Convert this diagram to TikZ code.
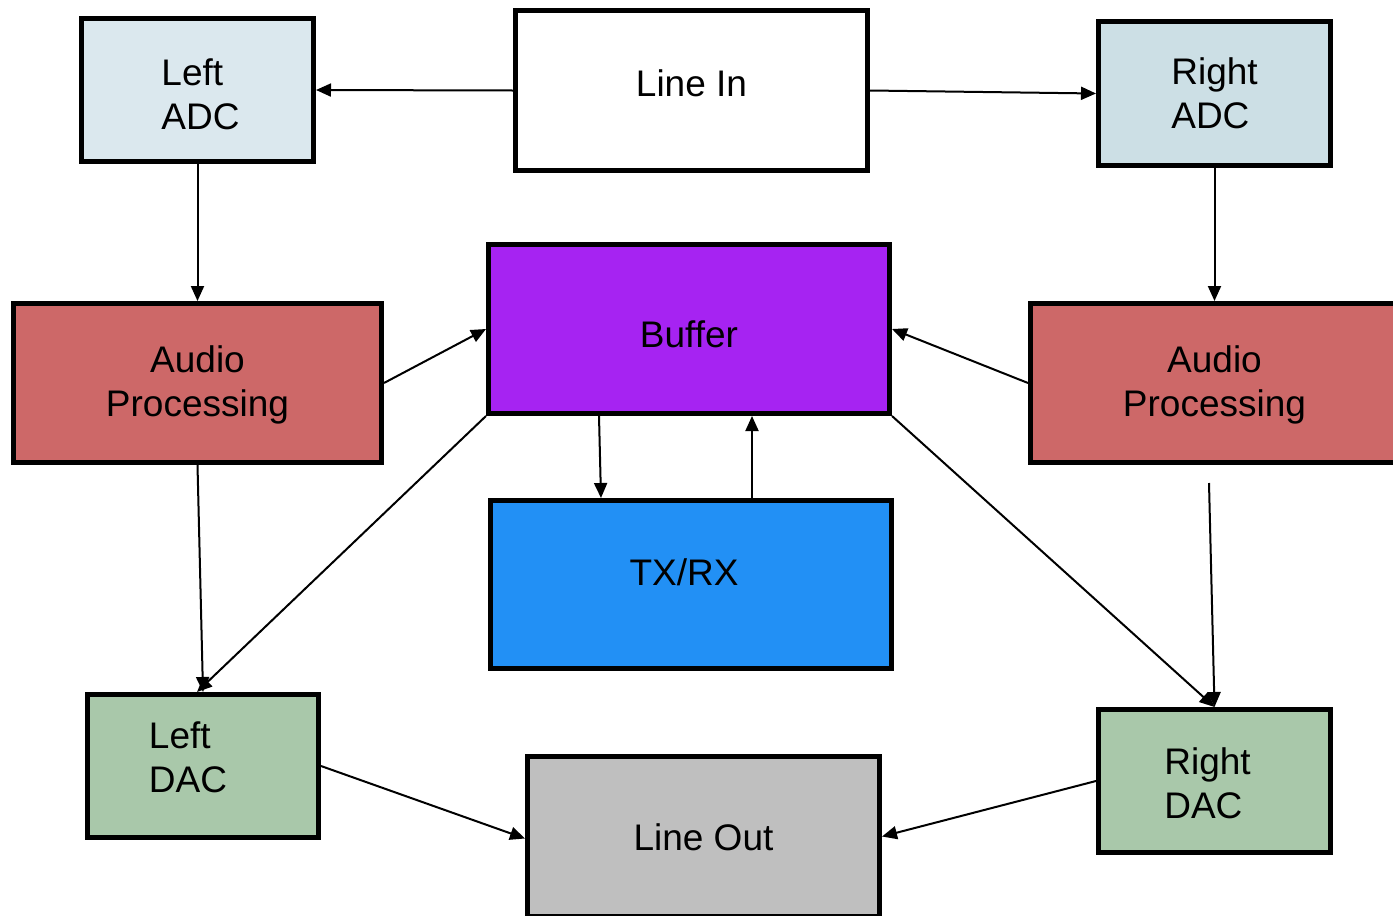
\documentclass[tikz,border=0pt]{standalone}
\usepackage{fontspec}
\setmainfont{Liberation Sans}
\usetikzlibrary{arrows.meta,calc}
\definecolor{adcL}{RGB}{219,232,238}
\definecolor{adcR}{RGB}{204,223,229}
\definecolor{apc}{RGB}{205,104,104}
\definecolor{bufc}{RGB}{166,35,242}
\definecolor{txc}{RGB}{34,144,245}
\definecolor{dacc}{RGB}{169,200,170}
\definecolor{outc}{RGB}{191,191,191}
\tikzset{
  blk/.style={draw=black,line width=5pt,rectangle,inner sep=0pt},
  lbl/.style={font=\fontsize{37}{44}\selectfont,inner sep=0pt},
  conn/.style={line width=2pt,-{Triangle[length=15pt,width=13pt]}},
}
\begin{document}
\begin{tikzpicture}[x=1pt,y=-1pt]
\clip (0,0) rectangle (1393,916);
\fill[white] (0,0) rectangle (1393,916);
% boxes
\node[blk,fill=adcL,minimum width=232pt,minimum height=143pt] (ladc) at (197.5,90) {};
\node[blk,fill=white,minimum width=352pt,minimum height=160pt] (linein) at (691.5,90.5) {};
\node[blk,fill=adcR,minimum width=232pt,minimum height=144pt] (radc) at (1214.5,93.5) {};
\node[blk,fill=apc,minimum width=368pt,minimum height=159pt] (lap) at (197.5,383) {};
\node[blk,fill=bufc,minimum width=401pt,minimum height=169pt] (buffer) at (689,329) {};
\node[blk,fill=apc,minimum width=368pt,minimum height=159pt] (rap) at (1214.5,383) {};
\node[blk,fill=txc,minimum width=401pt,minimum height=168pt] (txrx) at (691,584.5) {};
\node[blk,fill=dacc,minimum width=231pt,minimum height=143pt] (ldac) at (203,766) {};
\node[blk,fill=outc,minimum width=352pt,minimum height=160pt] (lineout) at (703.5,836.5) {};
\node[blk,fill=dacc,minimum width=232pt,minimum height=143pt] (rdac) at (1214.5,781) {};
% labels
\node[lbl,align=left] (ladc-t) at ([shift={(3,4)}]ladc.center) {Left\\ADC};
\node[lbl] (linein-t) at ([shift={(0,-7)}]linein.center) {Line In};
\node[lbl,align=left] (radc-t) at ([shift={(0,0)}]radc.center) {Right\\ADC};
\node[lbl,align=center] (lap-t) at ([shift={(0,2)}]lap.center) {Audio\\Processing};
\node[lbl] (buffer-t) at ([shift={(0,5)}]buffer.center) {Buffer};
\node[lbl,align=center] (rap-t) at ([shift={(0,2)}]rap.center) {Audio\\Processing};
\node[lbl] (txrx-t) at ([shift={(-7,-12)}]txrx.center) {TX/RX};
\node[lbl,align=left] (ldac-t) at ([shift={(-15,-9)}]ldac.center) {Left\\DAC};
\node[lbl] (lineout-t) at ([shift={(0,1)}]lineout.center) {Line Out};
\node[lbl,align=left] (rdac-t) at ([shift={(-7,2)}]rdac.center) {Right\\DAC};
% connectors
\coordinate (rapout) at ([shift={(-5.5,18)}]rap.south);
\draw[conn] (linein.west) -- (ladc.east);
\draw[conn] (linein.east) -- (radc.west);
\draw[conn] (ladc.south) -- (lap.north);
\draw[conn] (radc.south) -- (rap.north);
\draw[conn] (lap.east) -- (buffer.west);
\draw[conn] (rap.west) -- (buffer.east);
\draw[conn] ([xshift=-90]buffer.south) -- ([xshift=-90]txrx.north);
\draw[conn] ([xshift=61]txrx.north) -- ([xshift=63]buffer.south);
\draw[conn] (lap.south) -- (ldac.north);
\draw[conn] (buffer.south west) -- ([xshift=-6]ldac.north);
\draw[conn] (buffer.south east) -- (rdac.north);
\draw[conn] (rapout) -- (rdac.north);
\draw[conn] (ldac.east) -- ([yshift=-2]lineout.west);
\draw[conn] (rdac.west) -- (lineout.east);
\end{tikzpicture}
\end{document}
